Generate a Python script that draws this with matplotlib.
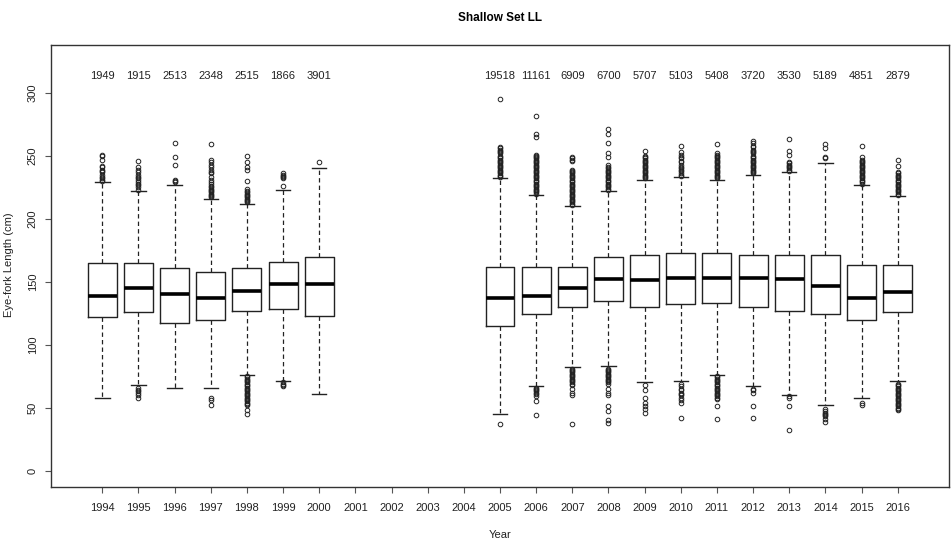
import matplotlib.pyplot as plt

plt.rcParams['font.family'] = ['Liberation Sans', 'DejaVu Sans']

# years shown on the axis (2001-2004 have no data)
axis_years = list(range(1994, 2017))

years = [1994, 1995, 1996, 1997, 1998, 1999, 2000,
         2005, 2006, 2007, 2008, 2009, 2010, 2011, 2012, 2013, 2014, 2015, 2016]
counts = [1949, 1915, 2513, 2348, 2515, 1866, 3901,
          19518, 11161, 6909, 6700, 5707, 5103, 5408, 3720, 3530, 5189, 4851, 2879]
q1 = [122, 126, 117, 120, 127, 128, 123,
      115, 124, 130, 135, 130, 132, 133, 130, 127, 124, 120, 126]
medians = [139, 145, 140, 137, 143, 148, 148,
           137, 139, 145, 152, 151, 153, 153, 153, 152, 147, 137, 142]
q3 = [165, 165, 161, 158, 161, 166, 170,
      162, 162, 162, 170, 171, 173, 173, 171, 171, 171, 163, 163]
whisk_lo = [58, 68, 66, 66, 76, 71, 61,
            45, 67, 82, 83, 70, 71, 76, 67, 60, 52, 58, 71]
whisk_hi = [229, 222, 227, 216, 212, 223, 240,
            232, 219, 210, 222, 231, 233, 231, 235, 237, 244, 227, 218]

out_hi = [
    [251, 250, 247, 242, 241, 239, 238, 237, 235, 233, 232, 231, 230],
    [246, 241, 239, 237, 235, 233, 232, 231, 229, 228, 227, 225, 223],
    [260, 249, 243, 231, 230, 229],
    [259, 247, 245, 243, 241, 239, 237, 236, 233, 231, 229, 228, 226, 225, 224,
     223, 222, 221, 220, 219, 218, 217],
    [250, 245, 241, 239, 230, 224, 222, 221, 220, 219, 218, 217, 216, 215, 214, 213],
    [236, 235, 234, 233, 232, 226],
    [245],
    [295, 257, 256, 255, 254, 253, 252, 250, 249, 248, 247, 246, 245, 244, 243,
     242, 241, 240, 239, 238, 237, 236, 235, 234, 233],
    [282, 267, 265, 251, 250, 249, 248, 247, 246, 245, 244, 243, 242, 241, 240,
     239, 238, 237, 236, 235, 234, 233, 232, 231, 230, 229, 228, 227, 226, 225,
     224, 223, 222, 221, 220],
    [249, 248, 247, 246, 239, 238, 237, 236, 235, 234, 233, 232, 231, 230, 229,
     228, 227, 226, 225, 224, 223, 222, 221, 220, 219, 218, 217, 216, 215, 214,
     213, 212, 211],
    [271, 267, 260, 252, 249, 243, 241, 240, 239, 238, 237, 236, 235, 234, 233,
     232, 231, 230, 229, 228, 227, 226, 225, 224, 223],
    [254, 250, 249, 248, 247, 246, 245, 244, 243, 242, 241, 240, 239, 238, 237,
     236, 235, 234, 233, 232],
    [258, 253, 251, 249, 248, 246, 245, 243, 241, 240, 239, 238, 236, 235, 234],
    [259, 252, 251, 250, 249, 248, 247, 246, 245, 244, 243, 242, 241, 240, 239,
     238, 237, 236, 235, 234, 233, 232],
    [262, 260, 258, 257, 255, 254, 253, 252, 250, 249, 248, 247, 246, 245, 244,
     243, 242, 241, 240, 239, 238, 237, 236],
    [263, 254, 251, 245, 244, 243, 242, 241, 240, 239, 238],
    [259, 256, 249, 248],
    [258, 249, 247, 246, 245, 244, 243, 242, 241, 240, 239, 238, 237, 236, 235,
     234, 233, 232, 231, 230, 229, 228],
    [247, 242, 237, 236, 235, 234, 233, 232, 231, 230, 229, 228, 227, 226, 225,
     224, 223, 222, 221, 220, 219],
]
out_lo = [
    [],
    [66, 64, 63, 62, 60, 58],
    [],
    [58, 56, 52],
    [75, 74, 73, 72, 71, 70, 69, 68, 67, 66, 65, 64, 63, 62, 61, 60, 59, 58, 57,
     56, 55, 54, 53, 52, 48, 45],
    [70, 69, 68, 67],
    [],
    [37],
    [66, 65, 64, 63, 62, 61, 59, 55, 44],
    [81, 80, 79, 78, 77, 76, 75, 74, 73, 72, 71, 70, 69, 68, 65, 62, 60, 37],
    [81, 80, 79, 78, 77, 76, 75, 74, 73, 72, 71, 70, 69, 65, 62, 60, 51, 47, 40, 38],
    [68, 64, 58, 54, 51, 49, 46],
    [69, 67, 65, 64, 62, 61, 60, 58, 56, 54, 42],
    [75, 74, 73, 72, 71, 70, 69, 68, 67, 66, 65, 64, 63, 62, 61, 60, 59, 58, 57,
     51, 41],
    [65, 64, 62, 51, 42],
    [59, 58, 51, 32],
    [49, 47, 46, 45, 44, 43, 41, 39],
    [54, 52],
    [69, 68, 67, 66, 65, 64, 63, 62, 61, 60, 59, 58, 57, 56, 55, 54, 53, 52, 51,
     50, 49, 48],
]

positions = [y - 1993 for y in years]

stats = []
for i in range(len(years)):
    stats.append({
        'q1': q1[i], 'med': medians[i], 'q3': q3[i],
        'whislo': whisk_lo[i], 'whishi': whisk_hi[i],
        'fliers': out_hi[i] + out_lo[i],
    })

fig = plt.figure(figsize=(9.51, 5.48), dpi=100)
ax = fig.add_axes([51 / 951, 1 - 487 / 548, 898 / 951, 442 / 548])

ax.bxp(stats, positions=positions, widths=0.8, patch_artist=False,
       boxprops=dict(color='#222222', linewidth=1.0),
       whiskerprops=dict(color='#222222', linewidth=0.9, linestyle=(0, (3.5, 2.5))),
       capprops=dict(color='#222222', linewidth=1.0),
       medianprops=dict(color='black', linewidth=2.6, solid_capstyle='butt'),
       flierprops=dict(marker='o', markerfacecolor='none', markeredgecolor='#222222',
                       markersize=3.3, markeredgewidth=0.7))

# sample size above each box
for p, n in zip(positions, counts):
    ax.text(p, 313, str(n), ha='center', va='center', fontsize=8, color='#222222')

ax.set_xlim(-0.42, 24.42)
ax.set_ylim(-13, 338)
ax.set_xticks(range(1, len(axis_years) + 1))
ax.set_xticklabels([str(y) for y in axis_years])
ax.set_yticks(range(0, 301, 50))
ax.set_yticklabels([str(v) for v in range(0, 301, 50)], rotation=90, va='center')
ax.tick_params(axis='both', direction='out', length=4.5, width=0.8,
               colors='#555555', labelcolor='#222222', labelsize=8)
ax.tick_params(axis='x', pad=7)
ax.tick_params(axis='y', pad=5)
for s in ax.spines.values():
    s.set_color('#333333')
    s.set_linewidth(1.0)

fig.text(500 / 951, 1 - 18 / 548, 'Shallow Set LL', ha='center', va='center',
         fontsize=8.5, fontweight='bold')
fig.text(500 / 951, 1 - 535 / 548, 'Year', ha='center', va='center',
         fontsize=8, color='#222222')
fig.text(9 / 951, 1 - 265 / 548, 'Eye-fork Length (cm)', ha='center', va='center',
         rotation=90, fontsize=8, color='#222222')

fig.savefig('out.png', dpi=100)
